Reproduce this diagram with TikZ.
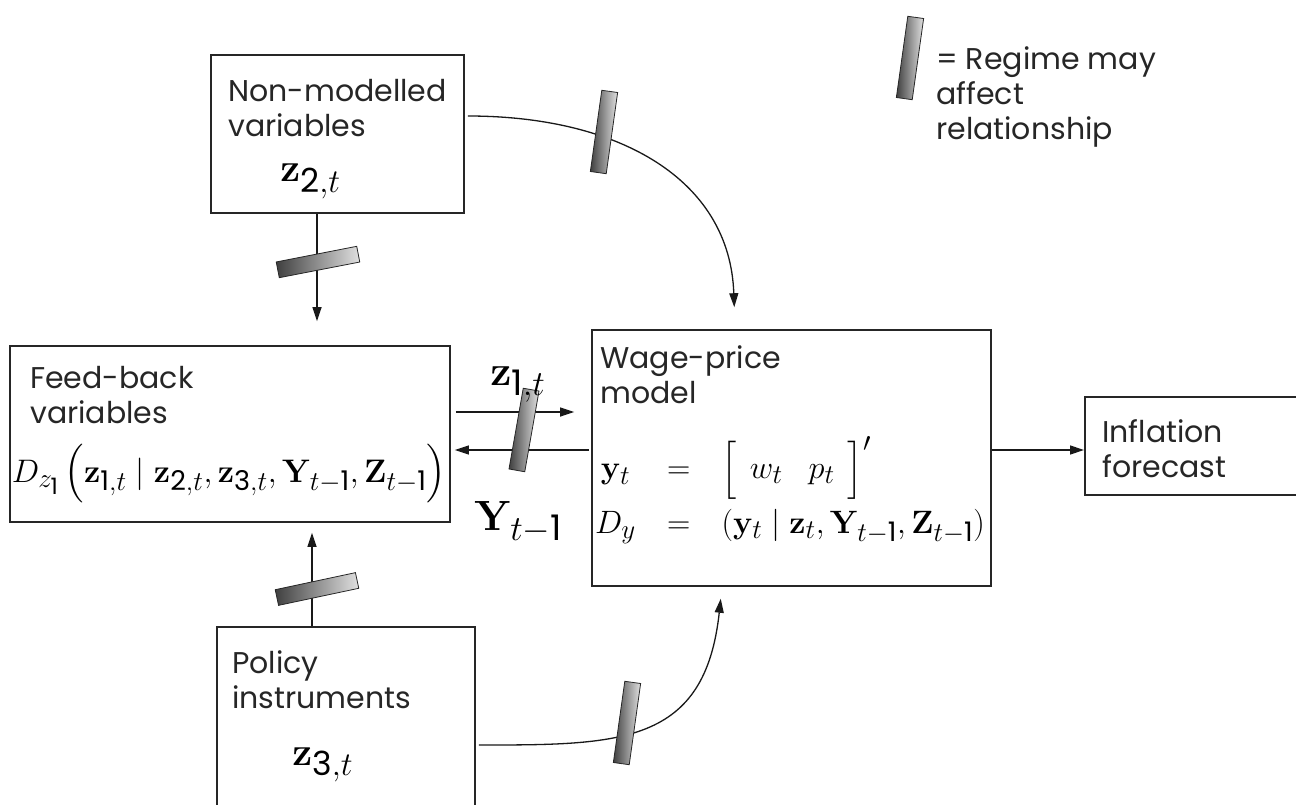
\documentclass[tikz,border=0pt]{standalone}
\usepackage{amsmath}
\usepackage[no-math]{fontspec}
\setmainfont{Poppins}
\DeclareMathSizes{24.88}{24.88}{20.74}{17.28}
\usetikzlibrary{arrows.meta,calc}
\newcommand\sd[1]{\text{#1}}
\begin{document}
\begin{tikzpicture}[x=1pt,y=1pt,
  blk/.style={draw=black!85, line width=1.6pt, rectangle, inner sep=0pt},
  lbl/.style={inner sep=0pt, anchor=north west, align=left, font=\fontsize{30}{35}\selectfont, text=black!85},
  mth/.style={inner sep=0pt, font=\fontsize{24.88}{30}\selectfont, text=black, transform shape},
  arr/.style={draw=black!90, line width=1.3pt, -{Triangle[length=14pt,width=9pt]}},
  regime/.pic={\draw[line width=0.8pt, draw=black!85, left color=black!75, right color=black!12]
     (-41,-8) -- (41,-8) -- (41,8) -- (-41,8) -- cycle;}
]
\useasboundingbox (0,0) rectangle (1296,-805);
% boxes
\node[blk, minimum width=253pt, minimum height=158pt] (nm) at (337.5,-134) {};
\node[blk, minimum width=440pt, minimum height=176pt] (fb) at (230,-434) {};
\node[blk, minimum width=399pt, minimum height=256pt] (wp) at (791.5,-458) {};
\node[blk, minimum width=240pt, minimum height=98pt, anchor=west] (inf) at (1084,-446) {};
\node[blk, minimum width=258pt, minimum height=230pt, anchor=north] (pol) at (346,-626) {};
% connectors
\coordinate (cx1) at (317,0);
\draw[arr, shorten >=24pt] (nm.south -| cx1) -- (fb.north -| cx1);
\coordinate (cx2) at (312,0);
\draw[arr, shorten >=10pt] (pol.north -| cx2) -- (fb.south -| cx2);
\coordinate (cy1) at (0,-412);
\draw[arr, shorten <=5pt, shorten >=17pt] (fb.east |- cy1) -- (wp.west |- cy1);
\coordinate (cy2) at (0,-450);
\draw[arr, shorten <=2pt, shorten >=4pt] (wp.west |- cy2) -- (fb.east |- cy2);
\draw[arr] (wp.east |- cy2) -- (inf.west |- cy2);
\coordinate (cy3) at (0,-116);
\coordinate (cx3) at (735,0);
\draw[arr, shorten <=3pt, shorten >=22pt] (nm.east |- cy3) .. controls (620,-116) and (730,-180) .. (wp.north -| cx3);
\coordinate (cy4) at (0,-745);
\coordinate (cx4) at (722,0);
\draw[arr, shorten <=3pt, shorten >=12pt] (pol.east |- cy4) .. controls (620,-745) and (705,-745) .. (wp.south -| cx4);
% regime bars
\pic (barleg) [rotate=82] at (910,-58) {regime};
\pic (bartop) [rotate=11] at (318,-262) {regime};
\pic (barbot) [rotate=12] at (317,-589) {regime};
\pic (barmid) [rotate=80] at (524,-430) {regime};
\pic (barcur) [rotate=82] at (604,-132) {regime};
\pic (barpol) [rotate=82] at (627,-723) {regime};
% texts
\node[lbl] (nmt) at (228,-79) {Non-modelled\\variables};
\node[mth, scale=1.6, anchor=base west] (z2) at (280,-182) {$\mathbf{z}_{\sd{2},t}$};
\node[lbl] (fbt) at (30,-366) {Feed-back\\variables};
\node[mth, scale=1.31] (dz) at (229,-474) {$D_{z_{\sd1}}\left(\rule[-11pt]{0pt}{32pt}\mathbf{z}_{\sd1,t}\mid\mathbf{z}_{\sd2,t},\mathbf{z}_{\sd3,t},\mathbf{Y}_{t-\sd1},\mathbf{Z}_{t-\sd1}\right)$};
\node[mth, scale=1.7, anchor=base west] (z1) at (490,-385) {$\mathbf{z}_{\sd1,t}$};
\node[mth, scale=1.7, anchor=base west] (Y1) at (474,-530) {$\mathbf{Y}_{t-\sd1}$};
\node[lbl] (wpt) at (600,-345) {Wage-price\\model};
\node[mth, scale=1.3] (wpf) at (790,-491) {\arraycolsep=12pt$\begin{array}{ccl}
  \mathbf{y}_t & = & \left[\rule[-15pt]{0pt}{43pt}\arraycolsep=10pt\begin{array}{cc} w_t & p_t\end{array}\right]' \\[12pt]
  D_y & = & (\mathbf{y}_t \mid \mathbf{z}_t, \mathbf{Y}_{t-\sd1}, \mathbf{Z}_{t-\sd1})
  \end{array}$};
\node[lbl] (inft) at (1102,-419) {Inflation\\forecast};
\node[lbl] (polt) at (232,-650) {Policy\\instruments};
\node[mth, scale=1.6, anchor=base west] (z3) at (292,-765) {$\mathbf{z}_{\sd3,t}$};
\node[lbl] (leg) at (936,-46) {= Regime may\\affect\\relationship};
\end{tikzpicture}
\end{document}
